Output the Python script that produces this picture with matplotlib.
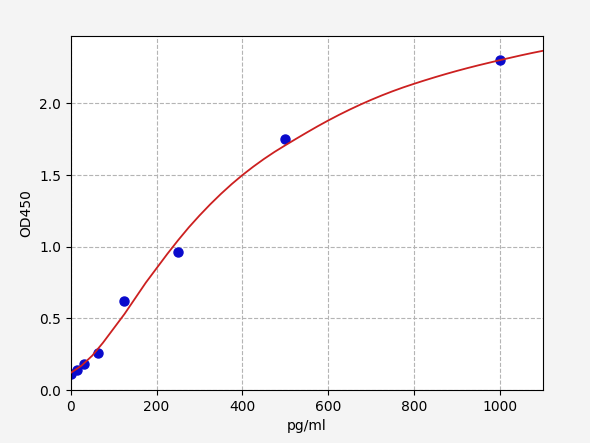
import matplotlib
matplotlib.use("Agg")
import matplotlib.pyplot as plt

# standard points (pg/ml vs OD450)
conc = [0, 15.6, 31.25, 62.5, 125, 250, 500, 1000]
od = [0.11, 0.14, 0.18, 0.26, 0.62, 0.96, 1.75, 2.30]

# fitted curve
curve_x = [0, 25, 50, 75, 100, 125, 150, 175, 200, 225, 250, 275, 300, 325,
           350, 375, 400, 425, 450, 475, 500, 525, 550, 575, 600, 625, 650,
           675, 700, 725, 750, 775, 800, 825, 850, 875, 900, 925, 950, 975,
           1000, 1025, 1050, 1075, 1100]
curve_y = [0.12, 0.17, 0.24, 0.33, 0.43, 0.53, 0.64, 0.75, 0.85, 0.95, 1.045,
           1.135, 1.218, 1.296, 1.369, 1.437, 1.50, 1.558, 1.612, 1.662, 1.708,
           1.753, 1.797, 1.84, 1.881, 1.92, 1.957, 1.992, 2.025, 2.056, 2.085,
           2.112, 2.137, 2.161, 2.184, 2.206, 2.227, 2.247, 2.266, 2.284,
           2.302, 2.319, 2.336, 2.352, 2.367]

fig = plt.figure(figsize=(5.9, 4.43), dpi=100, facecolor="#f4f4f4")
ax = fig.add_axes([0.120, 0.1196, 0.800, 0.799])
ax.set_facecolor("white")

ax.plot(conc, od, "o", color="#0a0acc", markersize=6.5, zorder=2)
ax.plot(curve_x, curve_y, "-", color="#cc2020", linewidth=1.3, zorder=3)

ax.set_xlim(0, 1100)
ax.set_ylim(0, 2.47)
ax.set_xticks([0, 200, 400, 600, 800, 1000])
ax.set_yticks([0.0, 0.5, 1.0, 1.5, 2.0])
ax.grid(True, linestyle="--", color="#b4b4b4", linewidth=0.8)
ax.set_xlabel("pg/ml")
ax.set_ylabel("OD450")

fig.savefig("out.png", dpi=100, facecolor=fig.get_facecolor())
